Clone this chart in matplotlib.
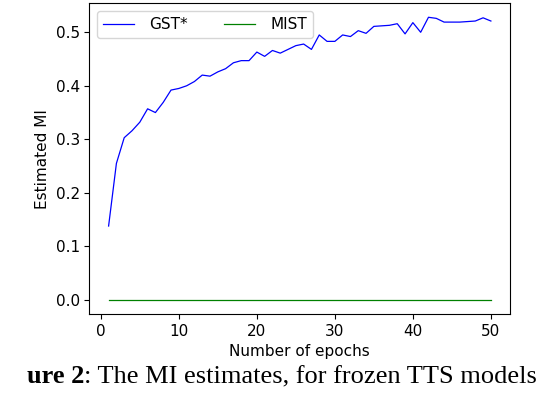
import numpy as np
import matplotlib
matplotlib.use("Agg")
import matplotlib.pyplot as plt

epochs = list(range(1, 51))
gst = [0.138, 0.255, 0.303, 0.316, 0.332, 0.357, 0.350, 0.369, 0.392, 0.395,
       0.400, 0.408, 0.420, 0.418, 0.426, 0.432, 0.443, 0.447, 0.447, 0.463,
       0.455, 0.466, 0.461, 0.468, 0.475, 0.478, 0.468, 0.495, 0.483, 0.483,
       0.495, 0.492, 0.503, 0.498, 0.511, 0.512, 0.513, 0.516, 0.497, 0.518,
       0.500, 0.528, 0.526, 0.519, 0.519, 0.519, 0.520, 0.521, 0.527, 0.521]
mist = [0.0] * 50

fig = plt.figure(figsize=(5.44, 3.94), dpi=100)
ax = fig.add_axes([0.1645, 0.203, 0.773, 0.789])

ax.plot(epochs, gst, color="blue", linewidth=0.9, label="GST*")
ax.plot(epochs, mist, color="green", linewidth=0.9, label="MIST")

ax.set_xlabel("Number of epochs", fontsize=11)
ax.set_ylabel("Estimated MI", fontsize=11)
ax.tick_params(labelsize=11)
ax.set_xticks([0, 10, 20, 30, 40, 50])
ax.set_yticks([0.0, 0.1, 0.2, 0.3, 0.4, 0.5])
ax.legend(loc="upper left", ncol=2, fontsize=11, columnspacing=2.4,
          handletextpad=1.0)

# caption cut off from the paper page
fig.text(84 / 544, 1 - 383 / 394, "ure 2", family="Liberation Serif",
         fontweight="bold", fontsize=19, ha="right", va="baseline")
fig.text(84 / 544, 1 - 383 / 394, ": The MI estimates, for frozen TTS models",
         family="Liberation Serif", fontsize=19, ha="left", va="baseline")

fig.savefig("out.png", dpi=100)
